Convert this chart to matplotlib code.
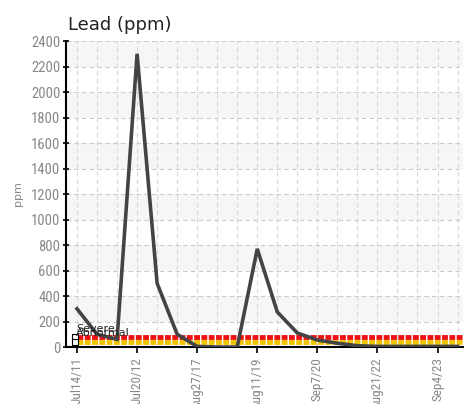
import matplotlib
matplotlib.use("Agg")
import matplotlib.pyplot as plt
from matplotlib import font_manager
import numpy as np

# Lead readings (ppm), one per sample
lead = [300, 100, 60, 2300, 500, 100, 5, 0, 0, 770,
        275, 110, 55, 30, 10, 5, 5, 5, 5, 5]
tick_idx = [0, 3, 6, 9, 12, 15, 18]
tick_labels = ["Jul14/11", "Jul20/12", "Aug27/17", "Aug11/19",
               "Sep7/20", "Aug21/22", "Sep4/23"]
severe = 80
abnormal = 40

# pick a narrow face if one is around
names = {f.name for f in font_manager.fontManager.ttflist}
fam = "DejaVu Sans"
for n in ["Liberation Sans Narrow", "Roboto Condensed", "DejaVu Sans"]:
    if n in names:
        fam = n
        break
x_fp = font_manager.FontProperties(family=fam, stretch="condensed", size=9.5)
y_fp = font_manager.FontProperties(family=fam, stretch="condensed", size=10.5)

fig = plt.figure(figsize=(4.66, 4.04), dpi=100)
ax = fig.add_axes([0.1416, 0.141, 0.851, 0.7575])

x = np.arange(len(lead))
ax.set_xlim(-0.55, 19.25)
ax.set_ylim(0, 2400)

# alternating bands
for y0 in range(200, 2400, 400):
    ax.axhspan(y0, y0 + 200, color="#f6f6f6", zorder=0, lw=0)

ax.set_yticks(np.arange(0, 2401, 200))
ax.set_xticks(x, minor=True)
ax.set_xticks(tick_idx)
ax.set_xticklabels(tick_labels, rotation=90, fontproperties=x_fp, color="#888888")
for lbl in ax.get_yticklabels():
    lbl.set_fontproperties(y_fp)
    lbl.set_color("#888888")
ax.tick_params(axis="y", length=4, width=1.2, direction="inout", pad=2)
ax.tick_params(axis="x", which="major", length=4, width=1.2, direction="out")
ax.tick_params(axis="x", which="minor", length=0)

ax.grid(axis="y", color="#cccccc", linestyle=(0, (4, 3)), lw=0.8)
ax.grid(axis="x", which="both", color="#d8d8d8", linestyle=(0, (4, 3)), lw=0.8)
ax.set_axisbelow(True)

for s in ["top", "right"]:
    ax.spines[s].set_visible(False)
ax.spines["left"].set_linewidth(1.5)
ax.spines["bottom"].set_linewidth(1.5)

# limit lines
ax.plot([0, 19.2], [severe, severe], color="#ee1111", lw=3.5, ls=(0, (1.2, 0.3)), zorder=3)
ax.plot([0, 19.2], [abnormal, abnormal], color="#f2c400", lw=3.5, ls=(0, (1.2, 0.3)), zorder=3)
ax.plot([-0.1, -0.1], [severe, abnormal], ls="none", marker="s", ms=4, mfc="white", mec="black", mew=0.8, zorder=5)
ax.text(-0.05, 115, "Severe", fontsize=8, color="#222222", zorder=6)
ax.text(-0.05, 88, "Abnormal", fontsize=8, color="#222222", zorder=6)

ax.plot(x, lead, color="#444444", lw=2.6, zorder=4, solid_joinstyle="miter")

ax.set_ylabel("ppm", fontsize=8, color="#888888", labelpad=6)
fig.text(0.146, 0.925, "Lead (ppm)", fontsize=13, color="#222222")

fig.savefig("out.png", dpi=100)
